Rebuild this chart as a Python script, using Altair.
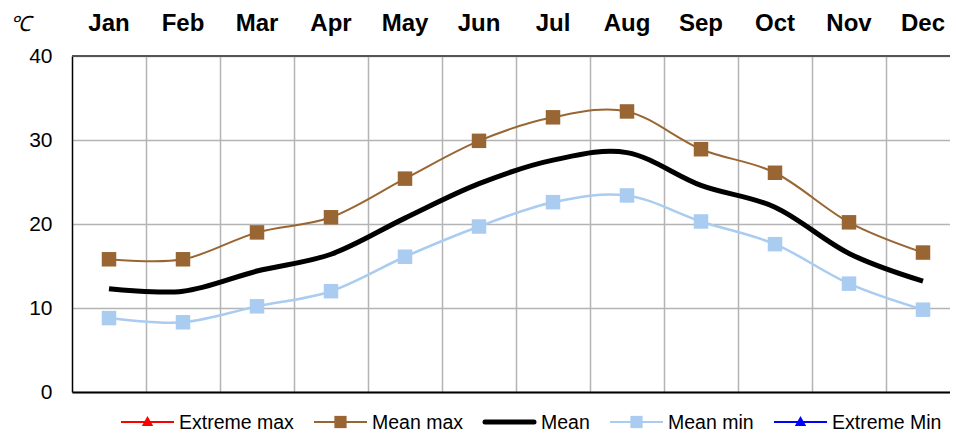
import altair as alt
import pandas as pd

months = ["Jan", "Feb", "Mar", "Apr", "May", "Jun", "Jul", "Aug", "Sep", "Oct", "Nov", "Dec"]
mean_max = [15.8, 15.8, 19.0, 20.8, 25.4, 29.9, 32.7, 33.4, 28.9, 26.1, 20.2, 16.6]
mean = [12.3, 12.0, 14.4, 16.4, 20.7, 24.8, 27.6, 28.5, 24.6, 22.0, 16.5, 13.2]
mean_min = [8.8, 8.3, 10.2, 12.0, 16.1, 19.7, 22.6, 23.4, 20.3, 17.6, 12.9, 9.8]
legend_names = ["Extreme max", "Mean max", "Mean", "Mean min", "Extreme Min"]
legend_colors = ["#FF0000", "#996633", "#000000", "#A9CCF0", "#0000FF"]

W, H = 878, 336
xscale = alt.Scale(domain=[-0.5, -0.5 + W / 74.0], nice=False, zero=False)
yscale = alt.Scale(domain=[0, 40], nice=False)

df = pd.DataFrame({
    "i": list(range(12)),
    "month": months,
    "mean_max": mean_max,
    "mean": mean,
    "mean_min": mean_min,
})

base = alt.Chart(df)

x_axis = alt.Axis(values=[k + 0.5 for k in range(11)], labels=False, ticks=False,
                  title=None, grid=True, gridColor="#B4B4B4", gridWidth=1.5,
                  domainColor="#000000", domainWidth=2)
y_axis = alt.Axis(values=[0, 10, 20, 30, 40], ticks=False, title=None, grid=True,
                  gridColor="#B4B4B4", gridWidth=1.5, domainColor="#000000",
                  domainWidth=1.5, labelFontSize=21, labelFont="Liberation Sans",
                  labelColor="#000000", labelPadding=20)

frame = base.mark_line(opacity=0).encode(
    x=alt.X("i:Q", scale=xscale, axis=x_axis),
    y=alt.Y("mean:Q", scale=yscale, axis=y_axis),
)

top_rule = alt.Chart(pd.DataFrame({"v": [40]})).mark_rule(color="#555555", strokeWidth=2).encode(
    y=alt.Y("v:Q", scale=yscale)
)

def series(col, color, width, marker):
    line = base.mark_line(interpolate="cardinal", color=color, strokeWidth=width).encode(
        x=alt.X("i:Q", scale=xscale), y=alt.Y(f"{col}:Q", scale=yscale)
    )
    if not marker:
        return line
    pts = base.mark_point(shape="square", filled=True, size=210, color=color, opacity=1).encode(
        x=alt.X("i:Q", scale=xscale), y=alt.Y(f"{col}:Q", scale=yscale)
    )
    return line + pts

s_max = series("mean_max", "#996633", 2, True)
s_mean = series("mean", "#000000", 5, False)
s_min = series("mean_min", "#A9CCF0", 2.5, True)

month_text = base.mark_text(fontSize=24, fontWeight="bold", font="Liberation Sans",
                            color="#000000", baseline="middle").encode(
    x=alt.X("i:Q", scale=xscale), y=alt.value(-32), text="month:N"
)

unit = alt.Chart(pd.DataFrame({"t": ["℃"]})).mark_text(
    fontSize=21, fontStyle="italic", font="Liberation Sans", color="#000000",
    align="left", baseline="middle").encode(x=alt.value(-62), y=alt.value(-31), text="t:N")

# custom legend
leg_x0 = [121 - 72, 314 - 72, 483 - 72, 610 - 72, 774 - 72]
leg_rows = []
for k, name in enumerate(legend_names):
    leg_rows.append({"name": name, "color": legend_colors[k], "x0": leg_x0[k],
                     "x1": leg_x0[k] + 53, "xm": leg_x0[k] + 26.5, "xt": leg_x0[k] + 58})
ldf = pd.DataFrame(leg_rows)
LY = 422 - 56

leg_lines = []
for k, r in enumerate(leg_rows):
    c = alt.Chart(pd.DataFrame([r])).mark_rule(
        color=r["color"], strokeWidth=5 if r["name"] == "Mean" else 2,
        strokeCap="round" if r["name"] == "Mean" else "butt").encode(
        x=alt.value(r["x0"] if r["name"] != "Mean" else r["x0"] + 2),
        x2=alt.value(r["x1"] if r["name"] != "Mean" else r["x1"] - 2),
        y=alt.value(LY))
    leg_lines.append(c)
    if r["name"] in ("Mean max", "Mean min"):
        leg_lines.append(alt.Chart(pd.DataFrame([r])).mark_point(
            shape="square", filled=True, size=150, color=r["color"], opacity=1).encode(
            x=alt.value(r["xm"]), y=alt.value(LY)))
    elif r["name"] in ("Extreme max", "Extreme Min"):
        leg_lines.append(alt.Chart(pd.DataFrame([r])).mark_point(
            shape="triangle-up", filled=True, size=130, color=r["color"], opacity=1).encode(
            x=alt.value(r["xm"]), y=alt.value(LY - 1)))

leg_text = alt.Chart(ldf).mark_text(fontSize=19.5, font="Liberation Sans", color="#000000",
                                    align="left", baseline="middle").encode(
    x=alt.X("xt:Q", scale=None), y=alt.value(LY + 1), text="name:N")

chart = alt.layer(frame, top_rule, s_max, s_mean, s_min, month_text, unit, *leg_lines, leg_text).properties(
    width=W, height=H,
    autosize=alt.AutoSizeParams(type="none"),
    padding={"left": 64, "top": 48, "right": 0, "bottom": 40},
).configure_view(stroke=None).configure(background="#FFFFFF")

chart.save("out.html", embed_options={"renderer": "svg", "actions": False})
